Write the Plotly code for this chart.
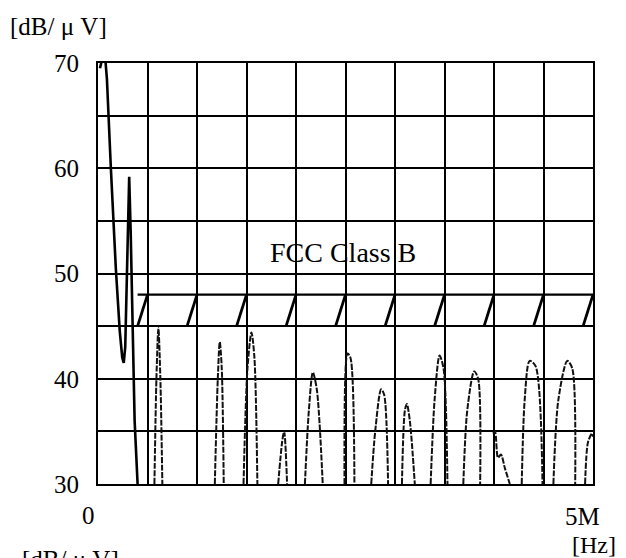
import plotly.graph_objects as go

# ---- data (x in MHz, level in dB/uV) ----
main_x = [0.02, 0.045, 0.07, 0.09, 0.13, 0.18, 0.22, 0.245, 0.26, 0.275, 0.29, 0.305, 0.315, 0.33, 0.35, 0.37, 0.40]
main_y = [69.5, 70.5, 70.8, 68.5, 60.0, 50.5, 44.5, 42.0, 41.5, 43.0, 49.0, 57.5, 59.2, 54.0, 44.0, 36.0, 30.0]

peaks_x = [
    [0.57, 0.59, 0.61, 0.63, 0.65],
    [1.18, 1.21, 1.23, 1.25, 1.27],
    [1.47, 1.51, 1.55, 1.58, 1.61],
    [1.82, 1.86, 1.88, 1.91],
    [2.09, 2.13, 2.17, 2.21, 2.27],
    [2.49, 2.52, 2.55, 2.59],
    [2.76, 2.80, 2.86, 2.89, 2.93],
    [3.07, 3.10, 3.12, 3.15, 3.20],
    [3.36, 3.40, 3.45, 3.49, 3.53],
    [3.69, 3.73, 3.80, 3.84, 3.86],
    [3.99, 4.01, 4.04, 4.07, 4.11, 4.16],
    [4.28, 4.31, 4.36, 4.42, 4.49],
    [4.60, 4.65, 4.74, 4.79, 4.82],
    [4.92, 4.95, 4.99, 5.00],
]
peaks_y = [
    [30, 40, 44.8, 40, 30],
    [30, 40, 43.5, 41, 30],
    [30, 41, 44.4, 42, 30],
    [30, 34, 35, 30],
    [30, 37, 40.6, 39, 30],
    [30, 42.4, 42.0, 30],
    [30, 35, 39, 38.5, 30],
    [30, 37, 37.6, 36, 30],
    [30, 38, 42.2, 41, 30],
    [30, 37, 40.7, 40, 30],
    [34.8, 35.0, 32.5, 32.8, 31.5, 30],
    [30, 38, 41.7, 41.2, 30],
    [30, 38, 41.7, 41, 30],
    [30, 34, 34.8, 34.5],
]

limit_upper = 48.0
limit_lower = 45.0
limit_start = 0.40
limit_end = 5.0
hatch_tops = [0.5, 1.0, 1.5, 2.0, 2.5, 3.0, 3.5, 4.0, 4.5, 5.0]
hatch_width = 0.1

y_ticks = [30, 35, 40, 45, 50, 55, 60, 65, 70]
y_labels = ["30", "", "40", "", "50", "", "60", "", "70"]
x_grid = [0, 0.5, 1.0, 1.5, 2.0, 2.5, 3.0, 3.5, 4.0, 4.5, 5.0]

FONT = "Liberation Serif"

W, H = 626, 558
L, R, T, B = 98, 33, 63, 74
pw, ph = W - L - R, H - T - B

def paper_x(px_):
    return (px_ - L) / pw

def paper_y(py_):
    return (H - B - py_) / ph

fig = go.Figure()

# peaks (broken lines)
px, py = [], []
for xs, ys in zip(peaks_x, peaks_y):
    px += xs + [None]
    py += ys + [None]
fig.add_trace(go.Scatter(x=px, y=py, mode="lines",
                         line=dict(color="#111", width=2.0, dash="6px,1.5px", shape="spline", smoothing=0.8),
                         hoverinfo="skip", showlegend=False))

# main curve
fig.add_trace(go.Scatter(x=main_x, y=main_y, mode="lines",
                         line=dict(color="black", width=2.6),
                         hoverinfo="skip", showlegend=False, cliponaxis=False))

# FCC limit upper line
fig.add_trace(go.Scatter(x=[limit_start, limit_end], y=[limit_upper, limit_upper], mode="lines",
                         line=dict(color="black", width=2.2), hoverinfo="skip", showlegend=False))
# hatch slashes
hx, hy = [], []
for t in hatch_tops:
    hx += [t - hatch_width, t, None]
    hy += [limit_lower, limit_upper, None]
fig.add_trace(go.Scatter(x=hx, y=hy, mode="lines",
                         line=dict(color="black", width=2.8), hoverinfo="skip", showlegend=False,
                         cliponaxis=False))

fig.add_annotation(x=2.475, y=52.0, xref="x", yref="y", text="FCC Class B", showarrow=False,
                   font=dict(family=FONT, size=28, color="black"))

# axis-end labels
fig.add_annotation(x=0, y=paper_y(515), xref="x", yref="paper", text="0", showarrow=False,
                   xshift=-10, yanchor="middle", font=dict(family=FONT, size=25, color="black"))
fig.add_annotation(x=5, y=paper_y(516), xref="x", yref="paper", text="5M", showarrow=False,
                   xshift=-11, yanchor="middle", font=dict(family=FONT, size=25, color="black"))
fig.add_annotation(x=paper_x(594), y=paper_y(545), xref="paper", yref="paper", text="[Hz]",
                   showarrow=False, xanchor="center", yanchor="middle",
                   font=dict(family=FONT, size=24, color="black"))
fig.add_annotation(x=paper_x(8), y=paper_y(27), xref="paper", yref="paper", text="[dB/ μ V]",
                   showarrow=False, xanchor="left", yanchor="middle",
                   font=dict(family=FONT, size=25, color="black"))
fig.add_annotation(x=paper_x(20), y=paper_y(544), xref="paper", yref="paper", text="[dB/ μ V]",
                   showarrow=False, xanchor="left", yanchor="top",
                   font=dict(family=FONT, size=25, color="black"))

fig.update_layout(
    width=W, height=H,
    margin=dict(l=L, r=R, t=T, b=B),
    paper_bgcolor="white", plot_bgcolor="white",
    font=dict(family=FONT, size=25, color="black"),
    showlegend=False,
)
fig.update_xaxes(range=[0, 5], tickvals=x_grid, ticktext=[""] * len(x_grid),
                 showgrid=True, gridcolor="black", gridwidth=1.6, zeroline=False,
                 showline=True, linecolor="black", linewidth=2, mirror=True, ticks="")
fig.update_yaxes(range=[30, 70], tickvals=y_ticks, ticktext=y_labels,
                 showgrid=True, gridcolor="black", gridwidth=1.6, zeroline=False,
                 showline=True, linecolor="black", linewidth=2, mirror=True, ticks="",
                 ticklabelstandoff=12, tickfont=dict(family=FONT, size=25))

fig.write_html("out.html")
